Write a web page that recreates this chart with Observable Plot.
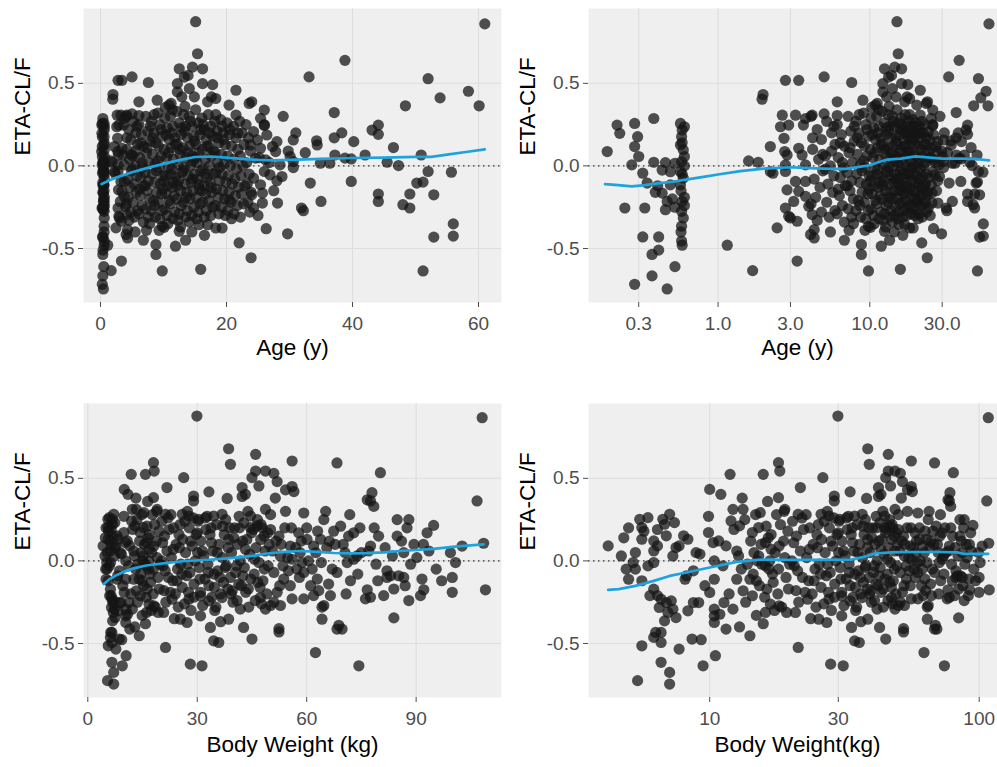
<!DOCTYPE html>
<html>
<head>
<meta charset="utf-8">
<script src="https://cdn.jsdelivr.net/npm/d3@7"></script>
<script src="https://cdn.jsdelivr.net/npm/@observablehq/plot@0.6"></script>
<style>
html,body{margin:0;padding:0;background:#fff;}
body{width:997px;height:767px;overflow:hidden;position:relative;}
.panel{position:absolute;width:505px;height:395px;}
</style>
</head>
<body>
<div id="p1" class="panel" style="left:0;top:0"></div>
<div id="p2" class="panel" style="left:505px;top:0"></div>
<div id="p3" class="panel" style="left:0;top:395px"></div>
<div id="p4" class="panel" style="left:505px;top:395px"></div>
<script>
// ---------- DATA: [age (y), ETA-CL/F] ----------
const ageInfants = [[0.186,0.087],[0.216,0.247],[0.225,0.197],[0.243,-0.255],[0.282,0.257],[0.295,0.177],[0.282,0.117],[0.30,0.057],[0.27,0.006],[0.319,-0.044],[0.341,-0.104],[0.329,-0.255],[0.319,-0.43],[0.282,-0.717],[0.367,-0.536],[0.406,-0.51],[0.367,-0.666],[0.462,-0.745],[0.52,-0.61],[0.406,-0.43],[0.377,0.287],[0.377,0.022],[0.428,-0.025],[0.485,-0.035],[0.386,-0.16],[0.428,-0.165],[0.462,-0.215],[0.45,-0.265],[0.485,-0.115],[0.52,0.016],[0.565,0.257],[0.58,0.217],[0.575,0.177],[0.565,0.127],[0.59,0.097],[0.6,0.057],[0.575,0.026],[0.565,-0.034],[0.59,-0.074],[0.565,-0.115],[0.58,-0.215],[0.575,-0.275],[0.59,-0.315],[0.575,-0.365],[0.58,-0.48],[0.575,-0.455],[0.6,0.237],[0.58,0.14],[0.6,0.0],[0.57,-0.15],[0.6,-0.24],[0.57,-0.4],[0.6,-0.19],[0.58,-0.05],[0.5,-0.2],[0.52,-0.25],[0.4,-0.12],[0.45,0.02]];
const ageToddlers = [[1.15,-0.48],[1.59,0.03],[1.84,0.022],[1.69,-0.634],[1.98,0.432],[1.95,0.404],[2.21,0.117],[2.45,-0.375],[2.65,0.307],[2.92,0.247],[2.58,0.237],[2.72,0.167],[2.75,0.087],[2.85,0.066],[3.24,0.307],[2.78,0.006],[2.21,-0.034],[2.78,-0.034],[2.3,-0.044],[3.4,0.107],[3.58,0.066],[3.77,0.006],[3.77,-0.094],[3.24,-0.094],[2.85,-0.145],[3.4,-0.154],[2.78,-0.255],[3.15,-0.215],[2.92,-0.305],[3.0,-0.315],[3.32,-0.335],[3.77,-0.184],[3.96,-0.245],[4.17,-0.295],[4.07,-0.415],[3.32,-0.576],[2.78,0.518],[3.4,0.518],[3.77,0.287],[3.65,0.247],[4.17,0.307],[4.3,-0.386],[5.0,0.539]];
const ageChildOutliers = [[6.1,0.388],[5.0,0.315],[6.1,0.305],[7.6,0.505],[9.0,0.398],[10.9,0.368],[10.3,0.354],[11.2,0.378],[15.1,0.873],[15.4,0.679],[12.5,0.588],[14.6,0.598],[16.2,0.588],[13.3,0.538],[13.9,0.548],[14.1,0.468],[14.9,0.418],[16.2,0.498],[17.8,0.492],[18.3,0.408],[17.0,0.388],[17.6,0.418],[21.5,0.458],[20.4,0.368],[21.5,0.308],[23.6,0.378],[12.2,0.448],[12.9,0.418],[12.2,0.498],[9.8,-0.636],[15.9,-0.626],[8.8,-0.476],[8.8,-0.536],[11.9,-0.486],[4.3,-0.436],[9.8,-0.366],[10.1,-0.372],[12.5,-0.396],[15.6,-0.356],[17.0,-0.356],[18.3,-0.376],[19.3,-0.376],[20.4,-0.206],[22.0,-0.466],[23.9,-0.556],[5.5,-0.4],[6.8,-0.45],[7.3,-0.39],[13.5,-0.45],[14.5,-0.4],[16.5,-0.42]];
const ageCore = [[4.1,0.3],[4.5,0.22],[4.8,0.16],[4.2,0.1],[4.6,0.04],[4.9,-0.03],[4.3,-0.08],[4.7,-0.13],[4.4,-0.19],[4.1,-0.23],[4.8,-0.28],[4.5,-0.33],[4.2,0.17],[4.9,0.07],
[5.2,0.27],[5.6,0.2],[5.9,0.13],[5.1,0.06],[5.5,0.0],[5.8,-0.06],[5.3,-0.11],[5.7,-0.16],[5.2,-0.22],[5.9,-0.27],[5.4,-0.31],[5.6,0.09],[5.1,-0.02],[5.8,0.24],
[6.1,0.25],[6.5,0.19],[6.8,0.12],[6.2,0.05],[6.7,-0.01],[6.4,-0.07],[6.9,-0.12],[6.3,-0.18],[6.6,-0.24],[6.1,-0.29],[6.8,-0.34],[6.4,0.14],[6.6,0.02],[6.2,-0.14],
[7.2,0.3],[7.5,0.21],[7.9,0.15],[7.3,0.08],[7.7,0.02],[7.1,-0.04],[7.6,-0.09],[7.4,-0.15],[7.8,-0.2],[7.2,-0.26],[7.6,-0.31],[7.9,0.24],[7.4,0.11],[7.1,-0.12],[7.8,-0.35],
[8.1,0.27],[8.5,0.2],[8.8,0.14],[8.3,0.07],[8.7,0.01],[8.2,-0.05],[8.6,-0.1],[8.9,-0.16],[8.4,-0.21],[8.1,-0.27],[8.7,-0.31],[8.5,0.31],[8.3,0.17],[8.9,-0.03],[8.6,-0.24],
[9.1,0.32],[9.4,0.25],[9.8,0.18],[9.2,0.12],[9.6,0.06],[9.3,-0.01],[9.9,-0.06],[9.5,-0.11],[9.7,-0.17],[9.2,-0.22],[9.8,-0.27],[9.4,-0.32],[9.6,0.22],[9.1,0.03],[9.9,-0.14],[9.3,-0.39],
[10.2,0.29],[10.6,0.23],[10.9,0.16],[10.1,0.1],[10.5,0.05],[10.8,-0.01],[10.3,-0.06],[10.7,-0.12],[10.4,-0.17],[10.9,-0.21],[10.2,-0.26],[10.6,-0.3],[10.4,0.19],[10.8,0.08],[10.1,-0.09],[10.7,-0.35],
[11.1,0.3],[11.5,0.24],[11.8,0.17],[11.2,0.11],[11.6,0.04],[11.3,-0.02],[11.9,-0.07],[11.4,-0.13],[11.7,-0.18],[11.1,-0.23],[11.8,-0.28],[11.5,-0.32],[11.3,0.2],[11.9,0.13],[11.6,-0.1],[11.2,-0.05],[11.4,0.34],
[12.1,0.33],[12.5,0.26],[12.8,0.19],[12.2,0.13],[12.6,0.07],[12.3,0.01],[12.9,-0.04],[12.4,-0.09],[12.7,-0.15],[12.1,-0.2],[12.8,-0.24],[12.5,-0.29],[12.3,-0.33],[12.9,0.23],[12.6,0.1],[12.2,-0.12],[12.7,-0.37],
[13.2,0.31],[13.5,0.24],[13.8,0.17],[13.1,0.11],[13.6,0.05],[13.3,-0.01],[13.9,-0.06],[13.4,-0.11],[13.7,-0.16],[13.2,-0.22],[13.8,-0.27],[13.5,-0.31],[13.3,0.21],[13.9,0.08],[13.6,-0.19],[13.1,-0.03],[13.4,0.36],
[14.1,0.3],[14.5,0.24],[14.8,0.18],[14.2,0.12],[14.6,0.06],[14.3,0.0],[14.9,-0.05],[14.4,-0.1],[14.7,-0.15],[14.2,-0.2],[14.8,-0.25],[14.5,-0.3],[14.3,0.27],[14.9,0.15],[14.6,-0.08],[14.1,-0.34],[14.7,0.03],
[15.1,0.34],[15.5,0.26],[15.8,0.19],[15.2,0.13],[15.6,0.08],[15.3,0.02],[15.9,-0.03],[15.4,-0.08],[15.7,-0.14],[15.2,-0.19],[15.8,-0.23],[15.5,-0.28],[15.3,-0.32],[15.9,0.22],[15.6,-0.11],[15.1,0.05],
[16.1,0.29],[16.5,0.22],[16.8,0.16],[16.2,0.1],[16.6,0.04],[16.3,-0.02],[16.9,-0.07],[16.4,-0.12],[16.7,-0.17],[16.2,-0.22],[16.8,-0.27],[16.5,-0.31],[16.3,0.25],[16.9,0.12],[16.6,-0.05],[16.1,-0.15],
[17.1,0.31],[17.5,0.24],[17.8,0.18],[17.2,0.12],[17.6,0.06],[17.3,0.0],[17.9,-0.05],[17.4,-0.1],[17.7,-0.16],[17.2,-0.21],[17.8,-0.25],[17.5,-0.3],[17.3,0.2],[17.9,0.09],[17.6,-0.13],
[18.1,0.27],[18.5,0.21],[18.8,0.14],[18.2,0.08],[18.6,0.02],[18.3,-0.04],[18.9,-0.09],[18.4,-0.14],[18.7,-0.19],[18.2,-0.24],[18.8,-0.29],[18.5,0.17],[18.3,0.31],[18.9,-0.01],
[19.1,0.28],[19.5,0.2],[19.8,0.13],[19.2,0.07],[19.6,0.01],[19.3,-0.05],[19.9,-0.1],[19.4,-0.15],[19.7,-0.2],[19.2,-0.25],[19.8,-0.3],[19.5,0.16],[19.3,0.24],
[20.1,0.26],[20.5,0.19],[20.8,0.12],[20.2,0.06],[20.6,0.0],[20.3,-0.06],[20.9,-0.11],[20.4,-0.16],[20.7,-0.22],[20.2,-0.27],[20.8,-0.32],[20.5,0.22],
[21.1,0.24],[21.5,0.17],[21.8,0.1],[21.2,0.04],[21.6,-0.02],[21.3,-0.08],[21.9,-0.13],[21.4,-0.18],[21.7,-0.24],[21.2,-0.29],[21.8,0.2],
[22.1,0.27],[22.5,0.2],[22.8,0.13],[22.2,0.06],[22.6,0.0],[22.3,-0.06],[22.9,-0.12],[22.4,-0.17],[22.7,-0.23],[22.2,-0.31],
[23.1,0.25],[23.5,0.17],[23.8,0.09],[23.2,0.02],[23.6,-0.05],[23.3,-0.11],[23.9,-0.16],[23.4,-0.22],[23.7,-0.28]];
const ageAdults = [[24.0,0.388],[26.0,0.338],[25.4,0.288],[26.0,0.245],[24.3,0.207],[24.9,0.157],[26.4,0.187],[23.8,0.127],[25.4,0.107],[24.6,0.047],[26.2,0.037],[26.0,-0.034],[24.3,-0.074],[25.4,-0.114],[24.0,-0.175],[25.7,-0.165],[25.7,-0.225],[24.3,-0.255],[28.0,0.147],[27.8,0.087],[26.9,-0.054],[28.8,-0.064],[27.3,0.117],[61.0,0.86],[38.8,0.639],[33.1,0.539],[52.0,0.528],[53.9,0.412],[58.4,0.452],[60.1,0.364],[48.4,0.364],[37.1,0.323],[43.1,0.217],[44.1,0.247],[44.1,0.191],[46.5,0.111],[40.2,0.147],[37.1,0.17],[38.3,0.2],[34.3,0.152],[34.4,0.127],[30.6,0.157],[32.5,0.08],[29.8,0.09],[30.1,0.057],[34.9,0.016],[36.4,0.016],[37.2,0.066],[38.8,0.047],[39.8,0.042],[42.0,0.066],[45.5,0.022],[47.3,0.002],[50.9,0.066],[52.0,-0.034],[55.7,-0.038],[50.2,-0.104],[51.2,-0.098],[49.1,-0.17],[52.9,-0.175],[48.0,-0.235],[49.1,-0.255],[44.1,-0.17],[44.1,-0.215],[39.8,-0.094],[33.3,-0.104],[31.9,-0.255],[32.2,-0.271],[35.0,-0.215],[56.0,-0.351],[56.0,-0.425],[52.9,-0.431],[51.2,-0.636],[29.7,-0.411],[28.0,-0.09],[28.1,-0.225],[26.3,-0.38],[30.6,-0.01],[28.5,0.006],[30.6,0.026],[26.0,0.25],[25.2,0.05],[26.8,0.02],[27.5,-0.15],[25.0,-0.3],[29.0,0.3],[31.0,0.2]];

// ---------- DATA: [body weight (kg), ETA-CL/F] ----------
const wtSmall = [[4.2,0.091],[5.0,-0.111],[5.3,0.051],[5.5,0.252],[5.6,0.202],[5.9,0.262],[5.7,0.18],[5.6,0.131],[5.2,-0.01],[5.3,-0.05],[5.9,-0.03],[5.6,-0.12],[6.2,0.06],[6.2,0.121],[6.4,0.19],[6.2,-0.01],[6.7,0.252],[6.8,0.222],[7.1,0.282],[7.4,0.232],[6.4,0.091],[6.9,0.152],[7.3,0.03],[7.5,0.081],[7.7,0.091],[6.0,-0.21],[6.2,-0.171],[6.4,-0.21],[6.6,-0.232],[6.5,-0.282],[6.9,-0.252],[7.2,-0.242],[7.3,-0.292],[7.0,-0.312],[7.5,-0.343],[6.8,-0.363],[6.6,-0.433],[6.3,-0.433],[6.2,-0.463],[5.6,-0.514],[6.6,-0.494],[7.7,-0.534],[6.6,-0.614],[7.1,-0.675],[7.1,-0.746],[5.4,-0.725],[8.0,0.152],[8.3,0.131],[8.2,-0.09],[8.7,-0.06],[8.1,-0.111],[8.3,-0.302],[8.7,-0.252],[9.1,-0.252],[8.6,-0.473],[9.3,-0.477],[9.45,-0.635],[10.5,-0.574],[10.0,0.433],[11.0,0.403],[9.9,0.172],[10.3,0.111],[10.8,0.121],[9.2,0.041],[10.4,0.0],[10.4,-0.111],[10.0,-0.191],[10.4,-0.292],[10.4,-0.333],[10.4,-0.373],[10.9,-0.323],[11.3,-0.252],[11.5,-0.413],[12.2,-0.292],[11.9,0.524],[12.2,0.312],[13.3,0.312],[12.0,0.242],[12.9,0.212],[11.5,0.091],[12.6,0.06],[13.1,-0.05],[12.6,-0.111],[14.1,-0.111],[13.3,-0.181],[14.4,-0.211],[14.1,-0.453],[15.8,0.524],[18.0,0.595],[18.2,0.544],[18.0,0.383],[14.4,0.172],[15.2,0.202],[16.1,0.111],[16.9,0.071],[15.2,0.03],[16.1,-0.03],[14.9,-0.121],[16.3,-0.171],[16.1,-0.312],[16.8,-0.262],[19.3,-0.312],[4.8,0.14],[4.7,0.03],[5.0,0.2],[4.9,-0.05]];
const wtFill = [[13.5,0.25],[14.2,0.12],[14.8,0.28],[15.5,0.1],[16.2,0.21],[16.9,0.16],[17.5,0.05],[18.3,0.22],[18.8,0.12],[19.5,0.18],[13.8,-0.02],[14.5,-0.08],[15.3,-0.15],[16.0,-0.22],[16.6,-0.05],[17.2,-0.13],[17.9,-0.2],[18.5,-0.28],[19.2,-0.1],[19.8,-0.02],[12.8,0.03],[13.6,-0.25],[14.9,-0.33],[15.8,-0.38],[17.4,-0.3],[18.9,0.3],[12.3,0.19],[11.2,-0.03],[9.6,-0.15],[8.9,0.05],[9.9,0.27],[11.8,-0.2],[12.9,-0.4],[13.2,0.38],[16.4,0.36],[17.7,0.28],[19.0,0.02],[18.0,-0.05],[15.0,0.0],[16.7,0.0],
[20.3,0.24],[21.0,0.15],[21.7,0.06],[20.6,-0.03],[22.1,-0.1],[20.9,-0.18],[21.4,-0.25],[22.3,0.19],[20.2,0.0],
[22.8,0.28],[23.5,0.2],[24.2,0.1],[22.9,0.02],[24.6,-0.05],[23.3,-0.12],[24.0,-0.2],[24.8,-0.28],[23.7,-0.35],
[25.3,0.22],[26.0,0.13],[26.8,0.05],[25.5,-0.02],[27.1,-0.09],[25.9,-0.16],[26.5,-0.26],[27.3,0.3],[25.1,0.08],
[27.8,0.2],[28.6,0.09],[29.4,0.0],[28.0,-0.07],[29.1,-0.14],[28.3,-0.3],[29.7,0.16],[28.9,0.26],[27.6,-0.19],
[30.2,0.24],[31.0,0.12],[31.8,0.03],[30.5,-0.04],[32.1,-0.11],[30.9,-0.19],[31.5,-0.27],[32.4,0.19],[30.1,0.05],
[32.7,0.27],[33.5,0.16],[34.3,0.06],[32.9,-0.02],[34.6,-0.08],[33.2,-0.15],[34.0,-0.22],[34.8,-0.3],[33.8,0.2],
[35.3,0.22],[36.0,0.1],[36.9,0.02],[35.6,-0.06],[37.2,-0.13],[36.4,-0.2],[35.1,-0.28],[37.4,0.16],
[37.8,0.25],[38.6,0.13],[39.4,0.05],[38.0,-0.03],[39.1,-0.1],[38.4,-0.17],[39.8,-0.25],[38.9,0.2],
[40.2,0.2],[41.0,0.1],[41.8,0.0],[40.5,-0.07],[42.1,-0.15],[40.9,-0.24],[41.5,0.27],[42.4,0.12],
[42.8,0.23],[43.6,0.13],[44.4,0.04],[42.9,-0.04],[44.7,-0.11],[43.3,-0.19],[44.1,-0.28],[43.9,0.3],
[45.3,0.19],[46.1,0.08],[46.9,-0.01],[45.6,-0.08],[47.2,-0.16],[45.9,-0.24],[46.5,0.25],[47.4,0.13],
[47.8,0.2],[48.6,0.06],[49.4,-0.03],[48.0,-0.12],[49.1,-0.2],[48.3,0.15],[49.7,0.1],[47.6,-0.26],
[53.0,0.1],[54.8,0.02],[57.3,-0.05],[58.5,0.12],[60.5,0.0],[62.5,0.05],[65.5,0.08],[67.0,-0.05],[70.0,0.1],[72.0,-0.12],[75.0,0.05],[79.0,-0.02],[81.5,0.08],[86.0,0.12],[88.5,-0.02],[53.5,-0.03],[55.8,0.2],[58.0,-0.1],[63.0,0.18],[66.0,-0.14]];
const wtFill2 = [[14.6,0.05],[15.6,-0.02],[16.5,0.14],[17.1,-0.08],[18.1,0.09],[19.6,-0.17],[20.5,0.11],[21.2,-0.06],[22.0,0.26],[22.6,-0.19],[23.4,0.07],[24.4,-0.12],[25.0,0.16],[25.8,-0.08],[26.6,0.24],[27.4,-0.02],[28.2,0.12],[29.0,-0.22],[30.0,0.17],[30.7,-0.11],[31.4,0.06],[32.2,0.26],[33.0,-0.07],[33.9,0.11],[34.7,-0.16],[35.5,0.05],[36.2,-0.1],[37.0,0.21],[37.7,-0.04],[38.5,0.08],[39.3,-0.2],[40.0,0.14],[40.8,-0.03],[41.6,0.2],[42.5,-0.09],[43.2,0.07],[44.0,-0.17],[44.9,0.17],[45.7,0.01],[46.6,-0.13],[47.5,0.22],[48.4,-0.05],[49.3,0.17],[50.6,0.06],[51.6,0.12],[52.6,-0.15],[54.0,0.2],[55.0,-0.06],[57.0,0.08],[60.0,0.2],[61.5,-0.05],[64.0,-0.01],[67.8,0.1],[70.5,0.05],[74.0,-0.08],[78.5,0.2],[83.5,0.03],[87.0,-0.15],[92.0,0.1],[97.0,-0.12]];
const wtMid = [[29.9,0.877],[38.6,0.679],[39.1,0.585],[46.0,0.645],[46.0,0.544],[45.0,0.504],[42.3,0.444],[48.7,0.544],[43.2,0.403],[46.9,0.454],[26.3,0.504],[21.7,0.444],[29.0,0.393],[29.0,0.363],[33.2,0.418],[38.2,0.378],[42.3,0.39],[19.0,0.312],[21.3,0.282],[25.9,0.282],[27.7,0.272],[30.4,0.252],[34.5,0.272],[36.8,0.282],[44.6,0.272],[48.7,0.312],[46.4,0.212],[44.6,0.202],[15.4,0.292],[21.3,-0.524],[28.1,-0.625],[31.3,-0.635],[34.5,-0.484],[35.9,-0.494],[20.8,-0.312],[25.4,-0.353],[27.2,-0.373],[30.9,-0.333],[33.6,-0.403],[36.4,-0.368],[38.6,-0.353],[41.8,-0.292],[42.7,-0.403],[45.0,-0.473],[33.2,-0.242],[30.9,-0.212],[36.8,-0.222],[39.6,-0.181],[27.7,-0.232],[23.1,-0.232],[18.1,-0.272],[48.7,-0.292],[47.3,-0.222],[41.4,-0.141]];
const wtHeavy = [[108.1,0.867],[106.7,0.363],[108.5,0.107],[109.0,-0.175],[102.6,0.09],[99.9,-0.1],[99.9,-0.19],[100.8,-0.01],[99.4,0.05],[94.8,0.215],[93.0,0.17],[93.5,0.06],[91.6,-0.11],[92.1,-0.175],[91.2,-0.21],[88.0,-0.24],[88.0,0.25],[87.5,0.2],[84.8,0.25],[84.8,0.15],[89.4,0.1],[86.6,0.05],[85.2,-0.09],[83.9,-0.17],[86.6,-0.1],[83.9,-0.345],[80.2,0.534],[77.9,0.413],[77.5,0.363],[78.4,0.33],[76.6,0.37],[79.7,0.15],[77.5,0.09],[82.0,-0.06],[82.0,-0.1],[83.0,-0.09],[76.6,-0.175],[77.5,-0.22],[76.1,-0.23],[81.1,-0.21],[74.3,-0.635],[62.4,-0.555],[64.2,-0.353],[68.3,-0.413],[68.8,-0.39],[69.7,-0.413],[66.5,-0.21],[68.3,-0.07],[71.1,-0.01],[72.9,0.01],[73.8,0.03],[77.0,0.06],[71.5,0.15],[72.9,0.17],[69.3,0.21],[67.4,0.18],[64.7,0.25],[65.2,0.3],[68.3,0.593],[63.8,0.131],[61.9,0.09],[62.9,-0.11],[63.3,-0.18],[61.1,-0.15],[59.2,-0.23],[64.7,-0.27],[64.2,-0.28],[56.0,0.605],[56.0,0.45],[56.5,0.42],[54.2,0.43],[51.4,0.38],[54.2,0.3],[59.2,0.29],[51.0,0.53],[51.9,0.48],[50.1,0.28],[50.1,0.19],[52.4,0.15],[57.8,0.17],[60.1,0.13],[55.5,0.09],[56.0,0.01],[52.8,0.03],[51.0,-0.07],[53.7,-0.11],[51.9,-0.19],[55.5,-0.15],[59.2,-0.07],[58.7,-0.01],[56.0,-0.23],[50.1,-0.27],[52.4,-0.41],[52.4,-0.43],[61.9,-0.21],[51.0,-0.25],[52.8,-0.27],[66.2,0.12],[70.8,-0.2],[74.6,0.2],[79.5,-0.12],[90.2,0.02],[95.5,-0.05],[71.8,0.28],[58.2,0.05]];

// ---------- smoother curves ----------
const smoothAgeLin = [[0.17,-0.11],[1,-0.095],[2.5,-0.07],[5,-0.038],[7.5,-0.012],[10,0.012],[12.5,0.035],[15,0.054],[17.5,0.057],[20,0.05],[22.5,0.043],[25,0.036],[27.5,0.034],[30,0.037],[35,0.043],[40,0.048],[45,0.05],[50,0.055],[52.5,0.055],[55,0.068],[58,0.084],[61,0.1]];
const smoothAgeLog = [[0.18,-0.11],[0.22,-0.116],[0.27,-0.124],[0.33,-0.116],[0.4,-0.106],[0.5,-0.096],[0.6,-0.085],[0.8,-0.066],[1.0,-0.052],[1.4,-0.032],[2,-0.016],[3,-0.008],[4,-0.014],[5.5,-0.018],[7,-0.018],[8.5,-0.006],[10,0.004],[11.5,0.024],[13,0.038],[16,0.044],[20,0.058],[25,0.05],[30,0.044],[40,0.044],[50,0.042],[61,0.034]];
const smoothWtLin = [[4.4,-0.14],[6,-0.11],[8,-0.085],[10,-0.065],[12.6,-0.045],[16,-0.028],[21.8,-0.012],[26,-0.002],[30.9,0.004],[35,0.01],[40,0.018],[45,0.03],[49.2,0.045],[54,0.055],[58.3,0.06],[63,0.055],[67.4,0.048],[72,0.046],[76.6,0.047],[81,0.052],[85.7,0.06],[90,0.066],[94.8,0.073],[100,0.085],[104,0.093],[108.5,0.1]];
const smoothWtLog = [[4.2,-0.175],[4.6,-0.171],[5.3,-0.151],[6.2,-0.121],[7.1,-0.091],[8.2,-0.07],[10,-0.04],[12.6,-0.006],[15.4,0.008],[19.9,0.006],[26.5,0.006],[33.5,0.008],[37.5,0.025],[41,0.045],[47,0.052],[55,0.054],[62,0.054],[72,0.054],[83,0.052],[88,0.042],[95,0.042],[108,0.043]];

const yTicks = [-0.5, 0, 0.5];
const ageLinTicks = [0, 20, 40, 60];
const ageLogTicks = [0.3, 1, 3, 10, 30];
const wtLinTicks = [0, 30, 60, 90];
const wtLogTicks = [10, 30, 100];

const ageData = [...ageInfants, ...ageToddlers, ...ageChildOutliers, ...ageCore, ...ageAdults];
const wtData = [...wtSmall, ...wtFill, ...wtFill2, ...wtMid, ...wtHeavy];

const FONT = '"Liberation Sans", Arial, Helvetica, sans-serif';

function panel(o) {
  return Plot.plot({
    width: 505, height: 395,
    marginLeft: 83, marginRight: 4, marginTop: 8, marginBottom: 93,
    style: {fontFamily: FONT, fontSize: "19px", color: "#4d4d4d", background: "transparent", maxWidth: "none", overflow: "visible"},
    x: {type: o.xType, domain: o.xDomain},
    y: {domain: [-0.827, 0.953]},
    marks: [
      Plot.frame({fill: "#EFEFEF", stroke: "none"}),
      Plot.gridX({ticks: o.xTicks, stroke: "#DEDEDE", strokeOpacity: 1, strokeWidth: 1.1}),
      Plot.gridY({ticks: yTicks, stroke: "#DEDEDE", strokeOpacity: 1, strokeWidth: 1.1}),
      Plot.ruleY([0], {stroke: "#333", strokeWidth: 1.3, strokeDasharray: "1.5,3.5"}),
      Plot.dot(o.data, {x: d => d[0], y: d => d[1], r: 5.6, fill: "#141414", fillOpacity: 0.74, stroke: "none"}),
      Plot.line(o.smooth, {x: d => d[0], y: d => d[1], stroke: "#1FA3DC", strokeWidth: 2.7}),
      Plot.axisX({ticks: o.xTicks, tickFormat: o.xFmt, tickSize: 5, tickPadding: 9, label: null}),
      Plot.axisY({ticks: yTicks, tickFormat: d => d.toFixed(1), tickSize: 5, tickPadding: 4, label: null}),
      Plot.text([o.xTitle], {text: d => d, frameAnchor: "bottom", dy: o.titleDy, fill: "#000", fontSize: 22.5}),
      Plot.text(["ETA-CL/F"], {text: d => d, frameAnchor: "left", dx: -61, rotate: -90, fill: "#000", fontSize: 22.5})
    ]
  });
}

document.getElementById("p1").append(panel({data: ageData, smooth: smoothAgeLin, xType: "linear", xDomain: [-2.7, 63.65], xTicks: ageLinTicks, xFmt: d => String(d), xTitle: "Age (y)", titleDy: 52}));
document.getElementById("p2").append(panel({data: ageData, smooth: smoothAgeLog, xType: "log", xDomain: [0.14, 79.6], xTicks: ageLogTicks, xFmt: d => d.toFixed(1), xTitle: "Age (y)", titleDy: 52}));
document.getElementById("p3").append(panel({data: wtData, smooth: smoothWtLin, xType: "linear", xDomain: [-1.18, 113.4], xTicks: wtLinTicks, xFmt: d => String(d), xTitle: "Body Weight (kg)", titleDy: 54}));
document.getElementById("p4").append(panel({data: wtData, smooth: smoothWtLog, xType: "log", xDomain: [3.55, 126.3], xTicks: wtLogTicks, xFmt: d => String(d), xTitle: "Body Weight(kg)", titleDy: 54}));
</script>
</body>
</html>
